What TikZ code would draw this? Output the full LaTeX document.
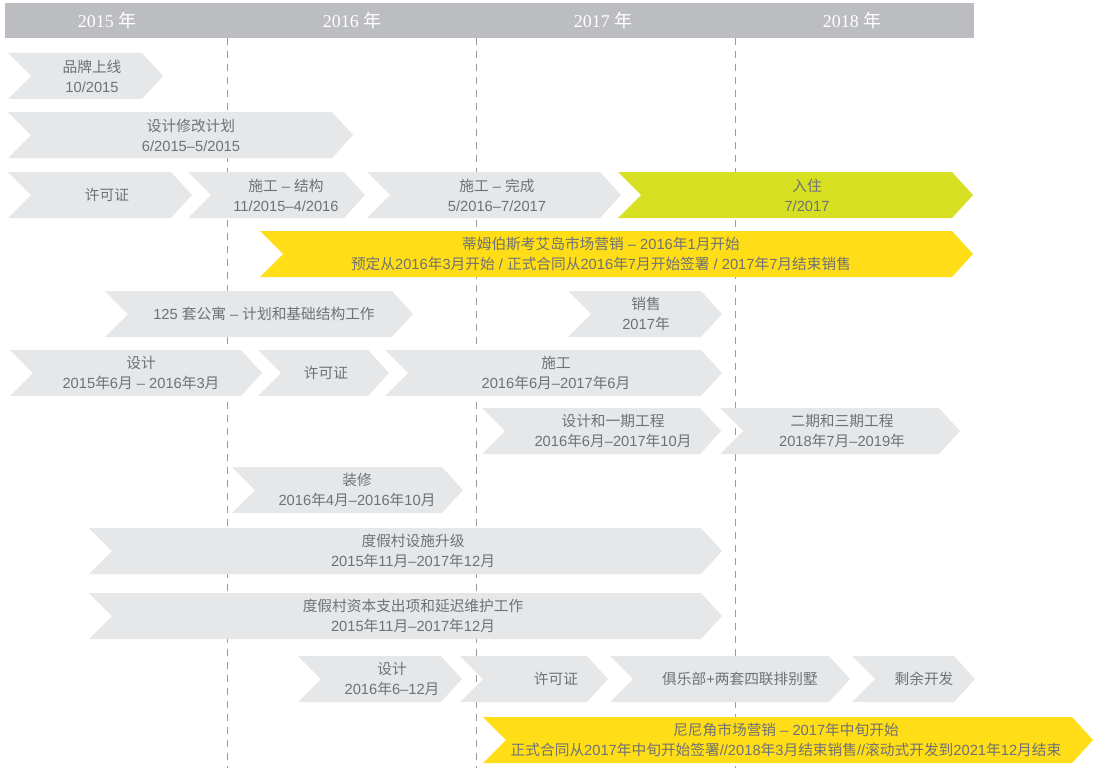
\documentclass[tikz,border=0pt]{standalone}
\usepackage{fontspec}
\setmainfont{Liberation Sans}
\newfontfamily\latinfont{Liberation Sans}
\newfontfamily\cjkfont{Noto Sans CJK SC}
\newfontfamily\serifyr{Liberation Serif}
\def\latinsw{\latinfont}
% automatic switch between Latin and CJK fonts
\XeTeXinterchartokenstate=1
\newXeTeXintercharclass\CJKcls
\count255="2E80
\loop\ifnum\count255<"A000 \XeTeXcharclass\count255=\CJKcls \advance\count255 by 1 \repeat
\count255="FF00
\loop\ifnum\count255<"FFF0 \XeTeXcharclass\count255=\CJKcls \advance\count255 by 1 \repeat
\XeTeXinterchartoks 0 \CJKcls = {\cjkfont}
\XeTeXinterchartoks 4095 \CJKcls = {\cjkfont}
\XeTeXinterchartoks \CJKcls 0 = {\latinsw}
\XeTeXinterchartoks \CJKcls 4095 = {\latinsw}

\definecolor{hdrgray}{HTML}{BCBDC0}
\definecolor{boxgray}{HTML}{E6E7E8}
\definecolor{boxyellow}{HTML}{FFDE17}
\definecolor{boxgreen}{HTML}{D7DF23}
\definecolor{txtgray}{HTML}{707174}
\definecolor{dashgray}{HTML}{9A9B9D}

\tikzset{
  gbox/.style={fill=boxgray},
  ybox/.style={fill=boxyellow},
  grbox/.style={fill=boxgreen},
  lbl/.style={text=txtgray, font=\fontsize{14.7}{20}\selectfont, align=center, inner sep=0pt},
  yearlbl/.style={text=white, font=\fontsize{18}{20}\selectfont\let\latinsw\serifyr\serifyr, inner sep=0pt},
  yrline/.style={draw=dashgray, line width=1pt, dash pattern=on 7pt off 6pt},
}

% \chev{style}{name}{x1}{x2}{ytop}{text x}{text}
\newcommand\chev[7]{%
  \path[#1] (#3,#5) -- ({#4-21},#5) -- (#4,#5+23) -- ({#4-21},#5+46) -- (#3,#5+46) -- ({#3+23},#5+23) -- cycle;
  \node[lbl] (#2) at (#6,#5+23) {#7};
}

\begin{document}
\begin{tikzpicture}[x=1pt,y=-1pt]
\useasboundingbox (0,0) rectangle (1093,768);

% header bar
\node[fill=hdrgray, minimum width=969pt, minimum height=35pt, inner sep=0pt, anchor=north west] (bar) at (5,3) {};
\node[yearlbl] (y2015) at (107,21) {2015 年};
\node[yearlbl] (y2016) at (352,21) {2016 年};
\node[yearlbl] (y2017) at (603,21) {2017 年};
\node[yearlbl] (y2018) at (852,21) {2018 年};

% year dividers
\coordinate (d1t) at (227,38); \coordinate (d1b) at (227,768);
\coordinate (d2t) at (476,38); \coordinate (d2b) at (476,768);
\coordinate (d3t) at (735,38); \coordinate (d3b) at (735,768);
\draw[yrline] (d1t) -- (d1b);
\draw[yrline] (d2t) -- (d2b);
\draw[yrline] (d3t) -- (d3b);

% rows
\chev{gbox}{brand}{8}{163}{53}{92}{品牌上线\\10/2015}
\chev{gbox}{redesign}{8}{353}{112}{191}{设计修改计划\\6/2015–5/2015}
\chev{gbox}{permitA}{8}{192}{172}{107}{许可证}
\chev{gbox}{struct}{188}{365}{172}{286}{施工 – 结构\\11/2015–4/2016}
\chev{gbox}{finish}{367}{621}{172}{497}{施工 – 完成\\5/2016–7/2017}
\chev{grbox}{occupy}{618}{973}{172}{807}{入住\\7/2017}
\chev{ybox}{mktA}{260}{973}{231}{601}{蒂姆伯斯考艾岛市场营销 – 2016年1月开始\\预定从2016年3月开始 / 正式合同从2016年7月开始签署 / 2017年7月结束销售}
\chev{gbox}{apt}{105}{413}{291}{264}{125 套公寓 – 计划和基础结构工作}
\chev{gbox}{sales}{568}{722}{291}{646}{销售\\2017年}
\chev{gbox}{designA}{10}{262}{350}{141}{设计\\2015年6月 – 2016年3月}
\chev{gbox}{permitB}{258}{389}{350}{326}{许可证}
\chev{gbox}{constr}{385}{722}{350}{556}{施工\\2016年6月–2017年6月}
\chev{gbox}{phaseA}{482}{721}{408}{613}{设计和一期工程\\2016年6月–2017年10月}
\chev{gbox}{phaseB}{720}{960}{408}{842}{二期和三期工程\\2018年7月–2019年}
\chev{gbox}{reno}{232}{463}{467}{357}{装修\\2016年4月–2016年10月}
\chev{gbox}{resort}{89}{722}{528}{413}{度假村设施升级\\2015年11月–2017年12月}
\chev{gbox}{capex}{89}{722}{593}{413}{度假村资本支出项和延迟维护工作\\2015年11月–2017年12月}
\chev{gbox}{designB}{298}{462}{656}{392}{设计\\2016年6–12月}
\chev{gbox}{permitC}{460}{608}{656}{556}{许可证}
\chev{gbox}{club}{610}{850}{656}{740}{俱乐部+两套四联排别墅}
\chev{gbox}{rest}{852}{975}{656}{924}{剩余开发}
\chev{ybox}{mktB}{483}{1093}{717}{786}{尼尼角市场营销 – 2017年中旬开始\\正式合同从2017年中旬开始签署//2018年3月结束销售//滚动式开发到2021年12月结束}
\end{tikzpicture}
\end{document}
